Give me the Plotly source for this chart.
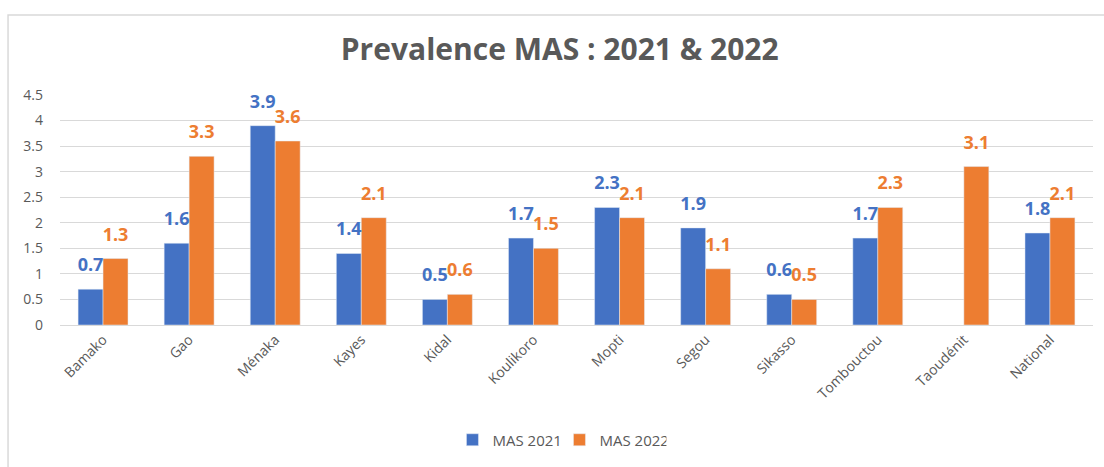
import plotly.graph_objects as go

categories = ["Bamako", "Gao", "Ménaka", "Kayes", "Kidal", "Koulikoro", "Mopti",
              "Segou", "Sikasso", "Tombouctou", "Taoudénit", "National"]
mas_2021 = [0.7, 1.6, 3.9, 1.4, 0.5, 1.7, 2.3, 1.9, 0.6, 1.7, None, 1.8]
mas_2022 = [1.3, 3.3, 3.6, 2.1, 0.6, 1.5, 2.1, 1.1, 0.5, 2.3, 3.1, 2.1]
y_ticks = [0, 0.5, 1, 1.5, 2, 2.5, 3, 3.5, 4, 4.5]
y_tick_labels = ["0", "0.5", "1", "1.5", "2", "2.5", "3", "3.5", "4", "4.5"]

BLUE = "#4472C4"
ORANGE = "#ED7D31"
GREY = "#595959"
FONT = "Open Sans"

fig = go.Figure()
for name, vals, col in [("MAS 2021", mas_2021, BLUE), ("MAS 2022", mas_2022, ORANGE)]:
    fig.add_trace(go.Bar(x=categories, y=vals, name=name, marker_color=col,
                         hoverinfo="skip"))
for name, vals, col in [("MAS 2021", mas_2021, BLUE), ("MAS 2022", mas_2022, ORANGE)]:
    fig.add_trace(go.Scatter(
        x=categories, y=vals, mode="markers+text", showlegend=False,
        marker=dict(size=20, opacity=0),
        text=[("" if v is None else f"{v}") for v in vals],
        textposition="top center", cliponaxis=False, hoverinfo="skip",
        textfont=dict(color=col, size=18, family=FONT, weight="bold"),
    ))

fig.update_layout(
    width=1104, height=467,
    margin=dict(l=60, r=11, t=95, b=142),
    paper_bgcolor="white", plot_bgcolor="white",
    barmode="group", bargap=0.42, bargroupgap=0,
    scattermode="group", scattergap=0.42,
    title=dict(text="<b>Prevalence MAS : 2021 & 2022</b>", x=0.507, xanchor="center",
               y=0.893, yanchor="middle",
               font=dict(family=FONT, size=30, color=GREY)),
    font=dict(family=FONT, color=GREY),
    showlegend=True,
    legend=dict(orientation="h", x=0.4835, xanchor="center", y=-0.5, yanchor="middle",
                font=dict(size=15, color=GREY), itemwidth=30, traceorder="normal",
                entrywidth=62, entrywidthmode="pixels"),
)
fig.update_xaxes(tickangle=-45, tickfont=dict(size=14, color=GREY, family=FONT),
                 showgrid=False, showline=True, linecolor="#D9D9D9", ticks="")
fig.update_yaxes(range=[0, 4.5], tickvals=y_ticks, ticktext=y_tick_labels,
                 tickfont=dict(size=14, color=GREY, family=FONT),
                 showgrid=True, gridcolor="#D9D9D9", gridwidth=1,
                 zeroline=False, showline=False, ticks="", ticklabelstandoff=16)

fig.add_shape(type="rect", xref="paper", yref="paper",
              x0=-0.0503, x1=1.03, y0=-0.7, y1=1.348,
              line=dict(color="#D9D9D9", width=1.5), fillcolor="rgba(0,0,0,0)", layer="below")

fig.write_html("out.html", config={"displayModeBar": False},
               post_script="document.body.style.margin='0';")
